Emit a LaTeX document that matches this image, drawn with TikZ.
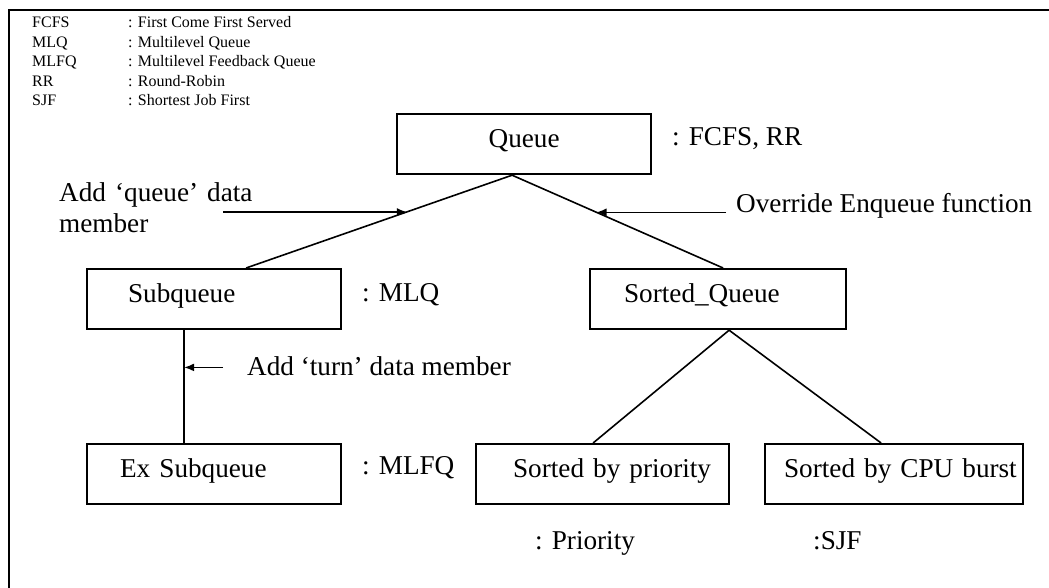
\documentclass[tikz,border=0pt]{standalone}
\usepackage{fontspec}
\setmainfont{Liberation Serif}
\usetikzlibrary{arrows.meta,calc}
\newcommand\mainsize{\fontsize{27.2}{31}\selectfont}
\newcommand\legendsize{\fontsize{16}{19.5}\selectfont}
\begin{document}
\begin{tikzpicture}[x=1pt,y=-1pt,
  box/.style={draw, line width=2.2pt, rectangle, anchor=north west,
    minimum width=#1, text width=#1, minimum height=60pt,
    inner xsep=0pt, inner ysep=0pt, text height=18pt, text depth=12pt,
    align=left, font=\mainsize},
  link/.style={line width=1.6pt},
  arr/.style={line width=1.6pt, -{Latex[length=10pt,width=8pt]}},
  txt/.style={anchor=base west, inner sep=0pt, font=\mainsize},
]
\useasboundingbox (0,0) rectangle (1049,588);

% frame (top and left edges)
\coordinate (fbl) at (9,588);
\coordinate (ftl) at (9,10);
\coordinate (ftr) at (1049,10);
\draw[line width=2.4pt] (fbl) -- (ftl) -- (ftr);

% abbreviations
\node[anchor=base west, inner sep=0pt, font=\legendsize] (legend) at (32,28)
  {\begin{tabular}[t]{@{}p{96pt}@{}l@{}}
    FCFS & : First Come First Served\\
    MLQ  & : Multilevel Queue\\
    MLFQ & : Multilevel Feedback Queue\\
    RR   & : Round-Robin\\
    SJF  & : Shortest Job First
  \end{tabular}};

% class boxes
\node[box=254pt, align=center] (q)   at (396,113) {Queue};
\node[box=254pt] (sub) at (86,268)  {\hspace*{41pt}Subqueue};
\node[box=256pt] (sq)  at (589,268) {\hspace*{34pt}Sorted\_Queue};
\node[box=254pt] (ex)  at (86,443)  {\hspace*{33pt}Ex Subqueue};
\node[box=253pt] (pr)  at (475,443) {\hspace*{37pt}Sorted by priority};
\node[box=258pt] (cpu) at (764,443) {\hspace*{19pt}Sorted by CPU burst};

% inheritance links
\draw[link] ([xshift=-12pt]q.south) -- coordinate[pos=0.396] (t1) ([xshift=32pt]sub.north);
\draw[link] ([xshift=-12pt]q.south) -- coordinate[pos=0.4] (t2) ([xshift=5pt]sq.north);
\draw[link] ([xshift=-30pt]sub.south) -- coordinate[pos=0.33] (t3) ([xshift=-30pt]ex.north);
\draw[link] ([xshift=11pt]sq.south) -- ([xshift=-9.5pt]pr.north);
\draw[link] ([xshift=11pt]sq.south) -- ([xshift=-13pt]cpu.north);

% annotation arrows
\coordinate (a1) at (223,211);
\coordinate (a2) at (726,211);
\coordinate (a3) at (223,366);
\draw[arr] (a1 |- t1) -- (t1);
\draw[arr] (a2 |- t2) -- (t2);
\draw[arr] (a3 |- t3) -- (t3);

% annotation texts
\node[txt, text width=220pt, align=left] (nq) at (59,202) {Add ‘queue’ data\\member};
\node[txt] (no) at (736,213) {Override Enqueue function};
\node[txt] (nt) at (247,375) {Add ‘turn’ data member};

% algorithm labels
\node[txt] (lq)    at (672,146) {: FCFS, RR};
\node[txt] (lmlq)  at (362,301) {: MLQ};
\node[txt] (lmlfq) at (362,474) {: MLFQ};
\node[txt] (lpri)  at (535,549) {: Priority};
\node[txt] (lsjf)  at (813,549) {:SJF};
\end{tikzpicture}
\end{document}
